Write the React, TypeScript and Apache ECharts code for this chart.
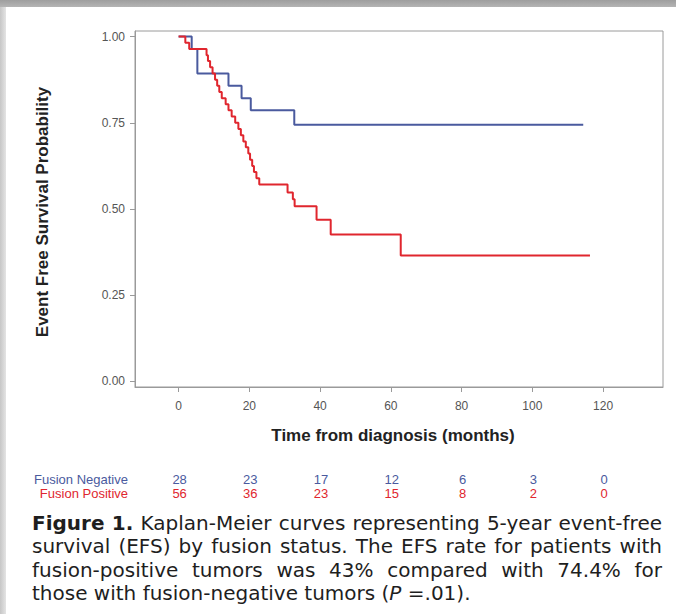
import React, { useEffect, useRef } from "react";
import * as echarts from "echarts";

// ---- data ----
const xTicks = [0, 20, 40, 60, 80, 100, 120];
const yTicks = [0, 0.25, 0.5, 0.75, 1];

const negTimes = [0, 3.7, 5.3, 14.1, 17.8, 20.4, 32.7, 114.4];
const negSurv = [1, 0.964, 0.893, 0.857, 0.821, 0.786, 0.744, 0.744];

const posTimes = [
  0, 1.9, 3.0, 7.9, 8.3, 8.9, 9.6, 10.3, 10.9, 11.5, 12.2, 13.3, 14.1, 15.0, 16.0,
  16.9, 17.6, 18.3, 19.0, 19.7, 20.2, 20.8, 21.3, 22.0, 22.8, 30.8, 32.3, 32.8,
  39.0, 43.0, 62.8, 116.3,
];
const posSurv = [
  1, 0.982, 0.964, 0.946, 0.929, 0.911, 0.893, 0.875, 0.857, 0.839, 0.821, 0.804,
  0.786, 0.768, 0.75, 0.732, 0.714, 0.696, 0.679, 0.661, 0.643, 0.625, 0.607,
  0.589, 0.571, 0.548, 0.528, 0.508, 0.469, 0.426, 0.365, 0.365,
];

const groupLabels = ["Fusion Negative", "Fusion Positive"];
const riskNegative = [28, 23, 17, 12, 6, 3, 0];
const riskPositive = [56, 36, 23, 15, 8, 2, 0];

const yTitle = "Event Free Survival Probability";
const xTitle = "Time from diagnosis (months)";

type Word = { t: string; b?: boolean; i?: boolean };
// each line: list of words (separated by one space); a word may be made of several runs
const captionLines: Word[][][] = [
  [[{ t: "Figure", b: true }], [{ t: "1.", b: true }], [{ t: "Kaplan-Meier" }], [{ t: "curves" }], [{ t: "representing" }], [{ t: "5-year" }], [{ t: "event-free" }]],
  [[{ t: "survival" }], [{ t: "(EFS)" }], [{ t: "by" }], [{ t: "fusion" }], [{ t: "status." }], [{ t: "The" }], [{ t: "EFS" }], [{ t: "rate" }], [{ t: "for" }], [{ t: "patients" }], [{ t: "with" }]],
  [[{ t: "fusion-positive" }], [{ t: "tumors" }], [{ t: "was" }], [{ t: "43%" }], [{ t: "compared" }], [{ t: "with" }], [{ t: "74.4%" }], [{ t: "for" }]],
  [[{ t: "those" }], [{ t: "with" }], [{ t: "fusion-negative" }], [{ t: "tumors" }], [{ t: "(" }, { t: "P", i: true }], [{ t: "=.01)." }]],
];

const BLUE = "#4a5a9e";
const RED = "#e0262e";
const AXIS = "#9a9a9a";
const SANS = "'Liberation Sans', Arial, sans-serif";
const CAP_FAMILY = "DejaVu Sans";
const CAP_SIZE = 20;

export default function App() {
  const ref = useRef<HTMLDivElement>(null);

  useEffect(() => {
    if (!ref.current) return;
    const chart = echarts.init(ref.current, undefined, { renderer: "svg" });

    const base: any = {
      animation: false,
      backgroundColor: "#ffffff",
      grid: {
        left: 135,
        top: 31,
        width: 528,
        height: 356,
        show: true,
        borderColor: AXIS,
        borderWidth: 1,
        backgroundColor: "transparent",
        containLabel: false,
        outerBoundsMode: "none",
      },
      xAxis: {
        type: "value",
        min: -12.33,
        max: 136.95,
        axisLine: { show: true, onZero: false, lineStyle: { color: AXIS, width: 1 } },
        axisTick: { show: true, length: 5, customValues: xTicks, lineStyle: { color: AXIS } },
        axisLabel: {
          customValues: xTicks,
          margin: 13,
          fontSize: 12,
          color: "#555",
          fontFamily: SANS,
        },
        splitLine: { show: false },
      },
      yAxis: {
        type: "value",
        min: -0.016,
        max: 1.016,
        axisLine: { show: true, onZero: false, lineStyle: { color: AXIS, width: 1 } },
        axisTick: { show: true, length: 5, customValues: yTicks, lineStyle: { color: AXIS } },
        axisLabel: {
          customValues: yTicks,
          margin: 10,
          fontSize: 12,
          color: "#555",
          fontFamily: SANS,
          formatter: (v: number) => v.toFixed(2),
        },
        splitLine: { show: false },
      },
      series: [
        {
          name: groupLabels[0],
          type: "line",
          step: "end",
          data: negTimes.map((t, k) => [t, negSurv[k]]),
          symbol: "none",
          showSymbol: false,
          lineStyle: { color: BLUE, width: 2 },
          z: 2,
        },
        {
          name: groupLabels[1],
          type: "line",
          step: "end",
          data: posTimes.map((t, k) => [t, posSurv[k]]),
          symbol: "none",
          showSymbol: false,
          lineStyle: { color: RED, width: 2 },
          z: 3,
        },
      ],
    };
    chart.setOption(base);

    const graphics: any[] = [];
    // frame bars
    graphics.push({
      type: "rect",
      shape: { x: 0, y: 7, width: 6, height: 607 },
      style: {
        fill: new echarts.graphic.LinearGradient(0, 0, 1, 0, [
          { offset: 0, color: "#c6c6c6" },
          { offset: 1, color: "#e4e4e4" },
        ]),
      },
      silent: true,
    });
    graphics.push({
      type: "rect",
      shape: { x: 0, y: 0, width: 676, height: 7 },
      style: {
        fill: new echarts.graphic.LinearGradient(0, 0, 0, 1, [
          { offset: 0, color: "#9e9e9e" },
          { offset: 1, color: "#b4b4b4" },
        ]),
      },
      silent: true,
    });

    // axis titles
    graphics.push({
      type: "text",
      x: 42,
      y: 212,
      rotation: Math.PI / 2,
      style: {
        text: yTitle,
        fontSize: 17,
        fontWeight: "bold",
        fontFamily: SANS,
        fill: "#222",
        textAlign: "center",
        textVerticalAlign: "middle",
      },
    });
    graphics.push({
      type: "text",
      x: 393,
      y: 435,
      style: {
        text: xTitle,
        fontSize: 17,
        fontWeight: "bold",
        fontFamily: SANS,
        fill: "#222",
        textAlign: "center",
        textVerticalAlign: "middle",
      },
    });

    // risk table
    const rowY = [479, 493];
    const rows = [riskNegative, riskPositive];
    const rowColors = [BLUE, RED];
    rows.forEach((vals, r) => {
      graphics.push({
        type: "text",
        x: 128,
        y: rowY[r],
        style: {
          text: groupLabels[r],
          fontSize: 13,
          fontFamily: SANS,
          fill: rowColors[r],
          textAlign: "right",
          textVerticalAlign: "middle",
        },
      });
      vals.forEach((v, k) => {
        const px = chart.convertToPixel({ xAxisIndex: 0 }, xTicks[k]) as number;
        graphics.push({
          type: "text",
          x: px + 1,
          y: rowY[r],
          style: {
            text: String(v),
            fontSize: 13,
            fontFamily: SANS,
            fill: rowColors[r],
            textAlign: "center",
            textVerticalAlign: "middle",
          },
        });
      });
    });

    // caption: measure words with the browser's own SVG text layout, then justify
    const svgNS = "http://www.w3.org/2000/svg";
    const msvg = document.createElementNS(svgNS, "svg") as SVGSVGElement;
    msvg.setAttribute("width", "10");
    msvg.setAttribute("height", "10");
    msvg.setAttribute("style", "position:absolute;left:-5000px;top:0;");
    document.body.appendChild(msvg);
    const measure = (text: string, size: number, b?: boolean, i?: boolean) => {
      const el = document.createElementNS(svgNS, "text") as SVGTextElement;
      el.setAttribute("font-family", CAP_FAMILY);
      el.setAttribute("font-size", String(size));
      el.setAttribute("font-weight", b ? "bold" : "normal");
      el.setAttribute("font-style", i ? "italic" : "normal");
      el.textContent = text;
      msvg.appendChild(el);
      const w = el.getComputedTextLength();
      msvg.removeChild(el);
      return w;
    };
    const wordWidth = (w: Word[], size: number) =>
      w.reduce((s, r) => s + measure(r.t, size, r.b, r.i), 0);
    const spaceW = (size: number) => measure("a a", size) - measure("aa", size);

    const capSize = CAP_SIZE;
    const L = 32;
    const R = 662;
    const lineY = [523, 546.4, 569.8, 593.2];
    captionLines.forEach((words, li) => {
      const justify = li < captionLines.length - 1;
      const widths = words.map((w) => wordWidth(w, capSize));
      const total = widths.reduce((a, b) => a + b, 0);
      let gap = justify ? (R - L - total) / (words.length - 1) : spaceW(capSize);
      if (!(gap > 2)) gap = spaceW(capSize);
      let x = L;
      words.forEach((w, k) => {
        let rx = x;
        w.forEach((r) => {
          graphics.push({
            type: "text",
            x: rx,
            y: lineY[li],
            style: {
              text: r.t,
              fontSize: capSize,
              fontFamily: CAP_FAMILY,
              fontWeight: r.b ? "bold" : "normal",
              fontStyle: r.i ? "italic" : "normal",
              fill: "#1e1e1e",
              textAlign: "left",
              textVerticalAlign: "middle",
            },
          });
          rx += measure(r.t, capSize, r.b, r.i);
        });
        x += widths[k] + gap;
      });
    });
    document.body.removeChild(msvg);

    chart.setOption({ graphic: graphics });

    return () => {
      chart.dispose();
    };
  }, []);

  return (
    <div
      ref={ref}
      style={{ position: "absolute", left: 0, top: 0, width: 676, height: 614, background: "#fff" }}
    />
  );
}
